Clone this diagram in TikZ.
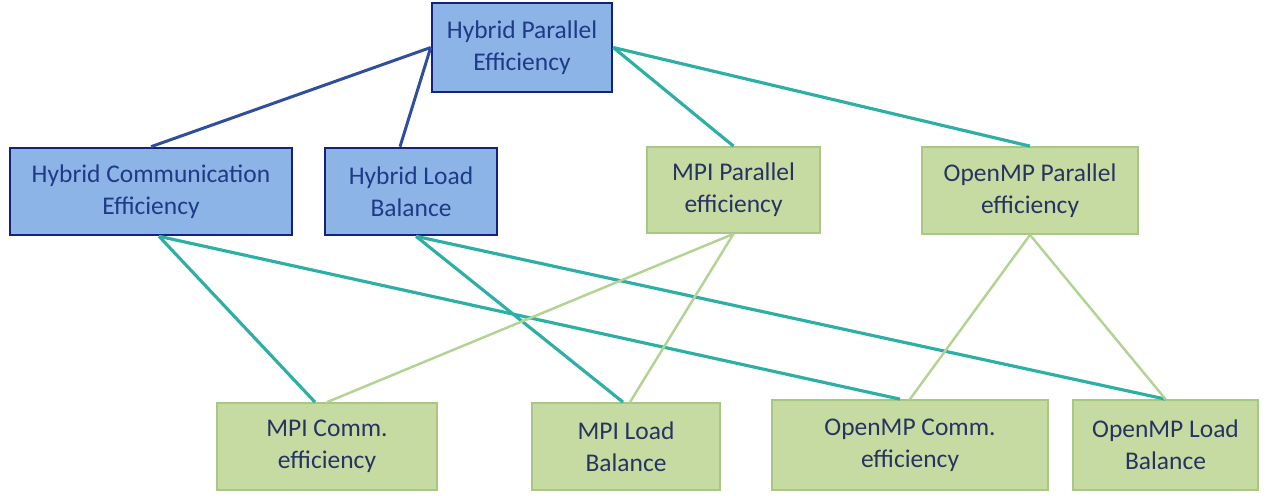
\documentclass[tikz,border=0pt]{standalone}
\usepackage{fontspec}
\setmainfont{Carlito}
\usetikzlibrary{calc}

\definecolor{hybfill}{HTML}{8DB4E6}
\definecolor{hybdraw}{HTML}{14237A}
\definecolor{hybtext}{HTML}{1F3A86}
\definecolor{mpifill}{HTML}{C6DBA2}
\definecolor{mpidraw}{HTML}{A9C784}
\definecolor{mpitext}{HTML}{263462}
\definecolor{tealline}{HTML}{2EAFA6}
\definecolor{navyline}{HTML}{2F4E9C}
\definecolor{leafline}{HTML}{B3D393}

\tikzset{
  hybbox/.style={draw=hybdraw, fill=hybfill, line width=1.5pt, text=hybtext,
    align=center, inner sep=0pt, font=\fontsize{14.5}{18}\selectfont},
  mpibox/.style={draw=mpidraw, fill=mpifill, line width=1pt, text=mpitext,
    align=center, inner sep=0pt, font=\fontsize{14.5}{18}\selectfont},
  navylink/.style={draw=navyline, line width=1.7pt},
  teallink/.style={draw=tealline, line width=1.8pt},
  leaflink/.style={draw=leafline, line width=1.4pt}
}

\begin{document}
\begin{tikzpicture}[x=0.02cm, y=-0.02cm]
		%%%%% START %%%%%
		\useasboundingbox (0, 0) rectangle (1267, 495);
		
		% top
		\node[hybbox, minimum width=3.6cm, minimum height=1.78cm] (hpe) at (522, 47.5) {Hybrid Parallel\\Efficiency};
		
		% middle row
		\node[hybbox, minimum width=5.64cm, minimum height=1.74cm] (hce) at (151, 191.5) {Hybrid Communication\\Efficiency};
		\node[hybbox, minimum width=3.44cm, minimum height=1.74cm] (hlb) at (411, 191.5) {Hybrid Load\\Balance};
		\node[mpibox, minimum width=3.46cm, minimum height=1.72cm] (mpe) at (733.5, 190) {MPI Parallel\\efficiency};
		\node[mpibox, minimum width=4.32cm, minimum height=1.74cm] (ope) at (1030, 190.5) {OpenMP Parallel\\efficiency};
		
		% bottom row
		\node[mpibox, minimum width=4.4cm, minimum height=1.74cm] (mce) at (327, 446.5) {MPI Comm.\\efficiency};
		\node[mpibox, minimum width=3.76cm, minimum height=1.74cm] (mlb) at (626, 446.5) {MPI Load\\Balance};
		\node[mpibox, minimum width=5.52cm, minimum height=1.8cm] (oce) at (910, 445) {OpenMP Comm.\\efficiency};
		\node[mpibox, minimum width=3.7cm, minimum height=1.8cm] (olb) at (1165.5, 445) {OpenMP Load\\Balance};
		
		% links
		\draw[navylink] (hpe.west) -- (hce.north);
		\draw[navylink] (hpe.west) -- ($(hlb.north)+(-11, 0)$);
		\draw[teallink] (hpe.east) -- (mpe.north);
		\draw[teallink] (hpe.east) -- (ope.north);
		
		\draw[teallink] ($(hce.south)+(8, 0)$) -- ($(mce.north)+(-12, 0)$);
		\draw[teallink] ($(hce.south)+(8, 0)$) -- ($(oce.north)+(-10, 0)$);
		\draw[teallink] ($(hlb.south)+(5, 0)$) -- ($(mlb.north)+(-3, 0)$);
		\draw[teallink] ($(hlb.south)+(5, 0)$) -- (olb.north);
		
		\draw[leaflink] (mpe.south) -- (mce.north);
		\draw[leaflink] (mpe.south) -- ($(mlb.north)+(4, 0)$);
		\draw[leaflink] (ope.south) -- (oce.north);
		\draw[leaflink] (ope.south) -- (olb.north);
		%%%%% END %%%%%
	\end{tikzpicture}
\end{document}
